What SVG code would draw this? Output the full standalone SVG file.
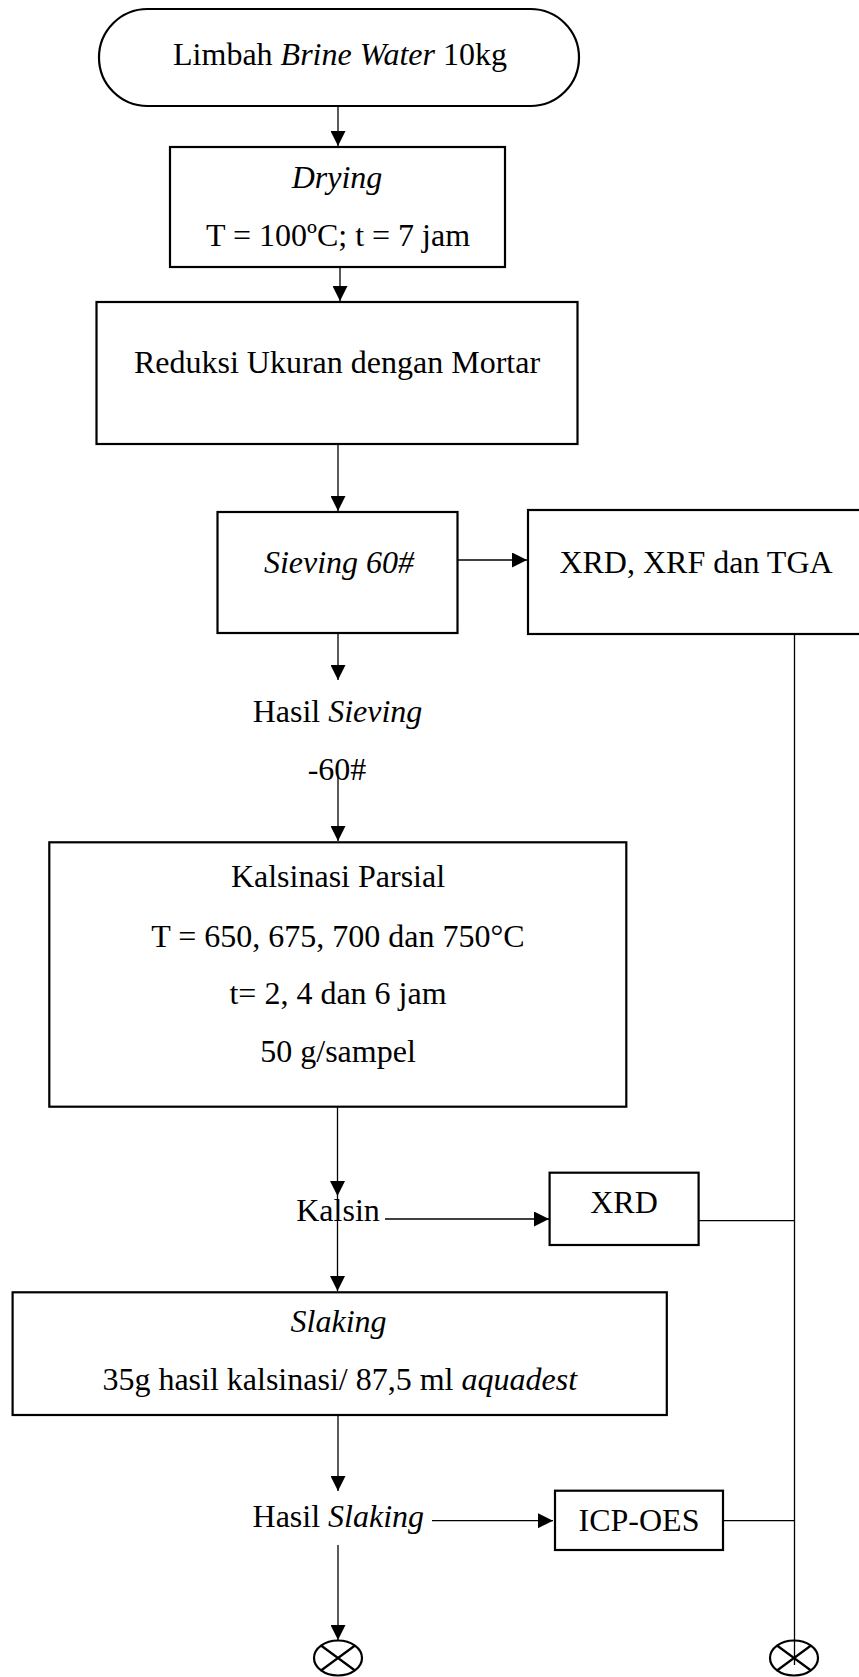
<svg xmlns="http://www.w3.org/2000/svg" width="859" height="1677" viewBox="0 0 859 1677">
<style>
.box{fill:#fff;stroke:#000;stroke-width:2.2}
.t{font-family:"Liberation Serif","Times New Roman",serif;font-size:32px;fill:#000;text-anchor:middle}
.i{font-style:italic}
.c{stroke:#000;stroke-width:1.3;fill:none}
.a{marker-end:url(#ah)}
.end{fill:#fff;stroke:#000;stroke-width:2.2}
.x{stroke:#000;stroke-width:2.2;fill:none}
</style>
<defs>
<marker id="ah" markerUnits="userSpaceOnUse" markerWidth="15" markerHeight="15" refX="15" refY="7.5" orient="auto">
<path d="M0,0 L15,7.5 L0,15 Z" fill="#000"/>
</marker>
</defs>
<rect width="859" height="1677" fill="#fff"/>
<g id="connectors">
<line class="c a" x1="338" y1="100" x2="338" y2="146"/>
<line class="c a" x1="340" y1="262" x2="340" y2="301"/>
<line class="c a" x1="338" y1="438" x2="338" y2="511"/>
<line class="c a" x1="457.5" y1="560" x2="527" y2="560"/>
<line class="c a" x1="338" y1="633" x2="338" y2="680"/>
<line class="c a" x1="338" y1="777" x2="338" y2="841"/>
<line class="c a" x1="337.5" y1="1101" x2="337.5" y2="1196"/>
<line class="c a" x1="337.5" y1="1196" x2="337.5" y2="1291"/>
<line class="c a" x1="385" y1="1219" x2="549" y2="1219"/>
<line class="c" x1="698.6" y1="1220.7" x2="794.5" y2="1220.7"/>
<line class="c a" x1="338" y1="1410" x2="338" y2="1491"/>
<line class="c a" x1="432" y1="1520.7" x2="553" y2="1520.7"/>
<line class="c" x1="723" y1="1520.7" x2="794.5" y2="1520.7"/>
<line class="c a" x1="338" y1="1545" x2="338" y2="1640"/>
<line class="c" x1="794.5" y1="634" x2="794.5" y2="1665"/>
</g>
<g id="start">
<rect class="box" x="99" y="9" width="480" height="97" rx="48.5" ry="48.5"/>
<text class="t" x="340" y="65">Limbah <tspan class="i">Brine Water</tspan> 10kg</text>
</g>
<g id="drying">
<rect class="box" x="170" y="147" width="335" height="120"/>
<text class="t i" x="337" y="188">Drying</text>
<text class="t" x="338" y="245.5">T = 100ºC; t = 7 jam</text>
</g>
<g id="reduksi">
<rect class="box" x="96.5" y="302" width="481" height="142"/>
<text class="t" x="337" y="373">Reduksi Ukuran dengan Mortar</text>
</g>
<g id="sieving">
<rect class="box" x="217.5" y="512" width="240" height="121"/>
<text class="t i" x="339" y="573">Sieving 60#</text>
</g>
<g id="xrd-xrf-tga">
<rect class="box" x="528" y="510" width="340" height="124"/>
<text class="t" x="696" y="573">XRD, XRF dan TGA</text>
</g>
<g id="hasil-sieving">
<text class="t" x="337.5" y="721.5">Hasil <tspan class="i">Sieving</tspan></text>
<text class="t" x="337" y="780">-60#</text>
</g>
<g id="kalsinasi">
<rect class="box" x="49.3" y="842.3" width="577" height="264.4"/>
<text class="t" x="338" y="886.5">Kalsinasi Parsial</text>
<text class="t" x="338" y="946.5">T = 650, 675, 700 dan 750°C</text>
<text class="t" x="338" y="1004">t= 2, 4 dan 6 jam</text>
<text class="t" x="338" y="1062">50 g/sampel</text>
</g>
<g id="kalsin">
<text class="t" x="338" y="1220.5">Kalsin</text>
</g>
<g id="xrd">
<rect class="box" x="549.6" y="1172.7" width="149" height="72.3"/>
<text class="t" x="624" y="1213">XRD</text>
</g>
<g id="slaking">
<rect class="box" x="12.6" y="1292.3" width="654.2" height="122.7"/>
<text class="t i" x="338.6" y="1331.5">Slaking</text>
<text class="t" x="339.7" y="1390">35g hasil kalsinasi/ 87,5 ml <tspan class="i">aquadest</tspan></text>
</g>
<g id="hasil-slaking">
<text class="t" x="338.3" y="1526.5">Hasil <tspan class="i">Slaking</tspan></text>
</g>
<g id="icp-oes">
<rect class="box" x="555" y="1490.7" width="168" height="59.3"/>
<text class="t" x="639" y="1531">ICP-OES</text>
</g>
<g id="end-left">
<ellipse class="end" cx="338" cy="1658" rx="24" ry="17.5"/>
<path class="x" d="M321,1645.5 L355,1670.5 M355,1645.5 L321,1670.5"/>
</g>
<g id="end-right">
<ellipse class="end" cx="794" cy="1658" rx="24" ry="17.5"/>
<path class="x" d="M777,1645.5 L811,1670.5 M811,1645.5 L777,1670.5"/>
<line class="c" x1="794.5" y1="1640" x2="794.5" y2="1665"/>
</g>
</svg>
